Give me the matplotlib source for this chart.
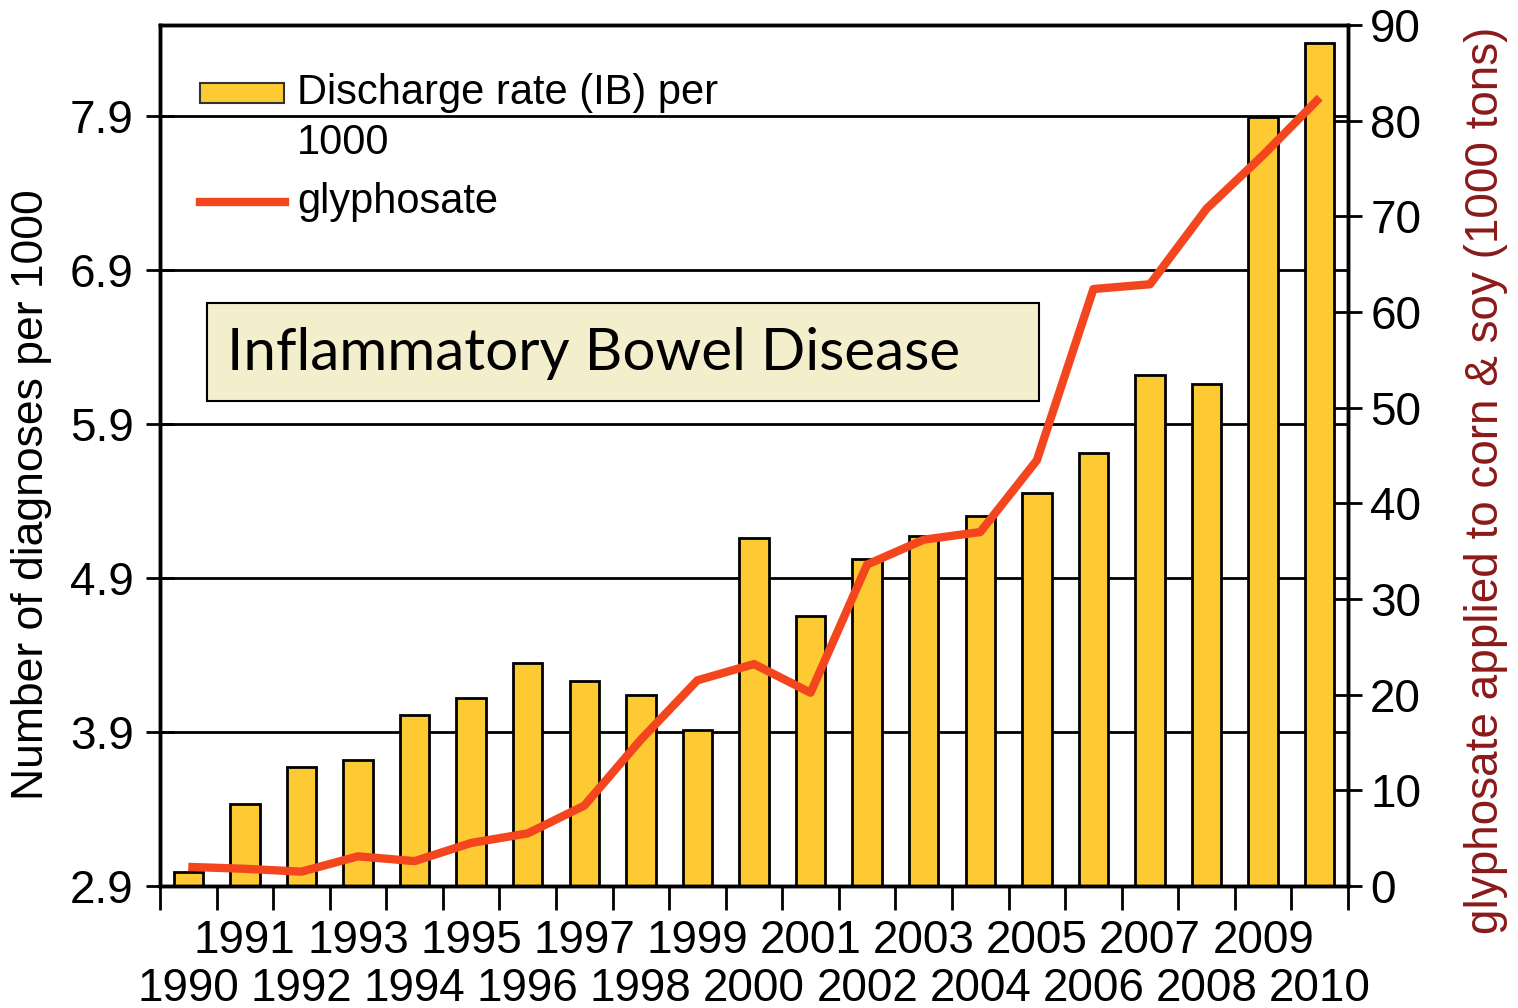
import numpy as np
import matplotlib
matplotlib.use("Agg")
import matplotlib.pyplot as plt
from matplotlib.patches import Rectangle
from matplotlib.lines import Line2D

# data
years = list(range(1990, 2011))
discharge_rate = [2.99, 3.43, 3.67, 3.72, 4.01, 4.12, 4.35, 4.23, 4.14, 3.91,
                  5.16, 4.65, 5.02, 5.17, 5.30, 5.45, 5.71, 6.22, 6.16, 7.89, 8.37]
glyphosate = [2.0, 1.8, 1.5, 3.1, 2.6, 4.5, 5.5, 8.4, 15.3, 21.5,
              23.2, 20.2, 33.6, 36.2, 37.0, 44.5, 62.4, 62.9, 70.8, 76.4, 82.4]
left_ticks = [2.9, 3.9, 4.9, 5.9, 6.9, 7.9]
right_ticks = [0, 10, 20, 30, 40, 50, 60, 70, 80, 90]

bar_color = "#fdca33"
line_color = "#f4461e"
label_red = "#8b1a1a"

plt.rcParams['font.family'] = ['Liberation Sans', 'DejaVu Sans']

fig = plt.figure(figsize=(15.18, 10.08), dpi=100)
ax = fig.add_axes([160/1518, 1 - 886/1008, 1188/1518, 861/1008])

x = np.arange(len(years))
ax.bar(x, discharge_rate, width=0.52, color=bar_color, edgecolor="black",
       linewidth=2, zorder=2)
ax.set_xlim(-0.5, len(years) - 0.5)
ax.set_ylim(2.9, 8.49)
ax.set_yticks(left_ticks)
ax.set_yticklabels([f"{v:.1f}" for v in left_ticks])
ax.yaxis.grid(True, color="black", linewidth=2)
ax.set_axisbelow(True)

# tick marks between bars; odd years on the first row, even on the second
odd_x = [i for i, y in enumerate(years) if y % 2]
even_x = [i for i, y in enumerate(years) if not y % 2]
ax.set_xticks(np.arange(-0.5, len(years), 1))
ax.set_xticklabels([])
ax.set_xticks(odd_x, [str(years[i]) for i in odd_x], minor=True)
ax.tick_params(axis="x", which="major", direction="out", length=17, width=2)
ax.tick_params(axis="x", which="minor", length=0, labelsize=33, pad=24)

sec = ax.secondary_xaxis("bottom")
sec.set_xticks(even_x, [str(years[i]) for i in even_x])
sec.tick_params(axis="x", length=0, labelsize=33, pad=58)
sec.spines["bottom"].set_visible(False)

ax.tick_params(axis="y", direction="inout", length=20, width=2,
               labelsize=33, pad=9)
ax.set_ylabel("Number of diagnoses per 1000", fontsize=32)
ax.yaxis.set_label_coords(-0.091, 0.454)

for s in ax.spines.values():
    s.set_linewidth(2.5)

ax2 = ax.twinx()
ax2.plot(x, glyphosate, color=line_color, linewidth=6, solid_capstyle="butt",
         zorder=3)
ax2.set_ylim(0, 90)
ax2.set_yticks(right_ticks)
ax2.tick_params(axis="y", direction="inout", length=20, width=2,
                labelsize=33, pad=6)
ax2.set_ylabel("glyphosate applied to corn & soy (1000 tons)", fontsize=33,
               color=label_red)
ax2.yaxis.set_label_coords(1.098, 0.4715)
for s in ax2.spines.values():
    s.set_linewidth(2.5)

# legend
ax2.add_patch(Rectangle((0.0337, 0.909), 0.071, 0.024, transform=ax.transAxes,
                        facecolor=bar_color, edgecolor="#333333", linewidth=1.5,
                        zorder=5))
ax2.add_line(Line2D([0.0337, 0.105], [0.794, 0.794], transform=ax.transAxes,
                    color=line_color, linewidth=6, zorder=5))
ax2.text(0.1153, 0.921, "Discharge rate (IB) per", transform=ax.transAxes,
         fontsize=30, va="center", ha="left", zorder=5)
ax2.text(0.1153, 0.863, "1000", transform=ax.transAxes,
         fontsize=30, va="center", ha="left", zorder=5)
ax2.text(0.1153, 0.794, "glyphosate", transform=ax.transAxes,
         fontsize=30, va="center", ha="left", zorder=5)

# annotation box
ax2.add_patch(Rectangle((0.0396, 0.563), 0.700, 0.114, transform=ax.transAxes,
                        facecolor="#f3eecb", edgecolor="black", linewidth=1.5,
                        zorder=6))
ax2.text(0.0564, 0.618, "Inflammatory Bowel Disease", transform=ax.transAxes,
         fontsize=42, family="Lato", va="center", ha="left", zorder=7)

fig.savefig("out.png", dpi=100)
